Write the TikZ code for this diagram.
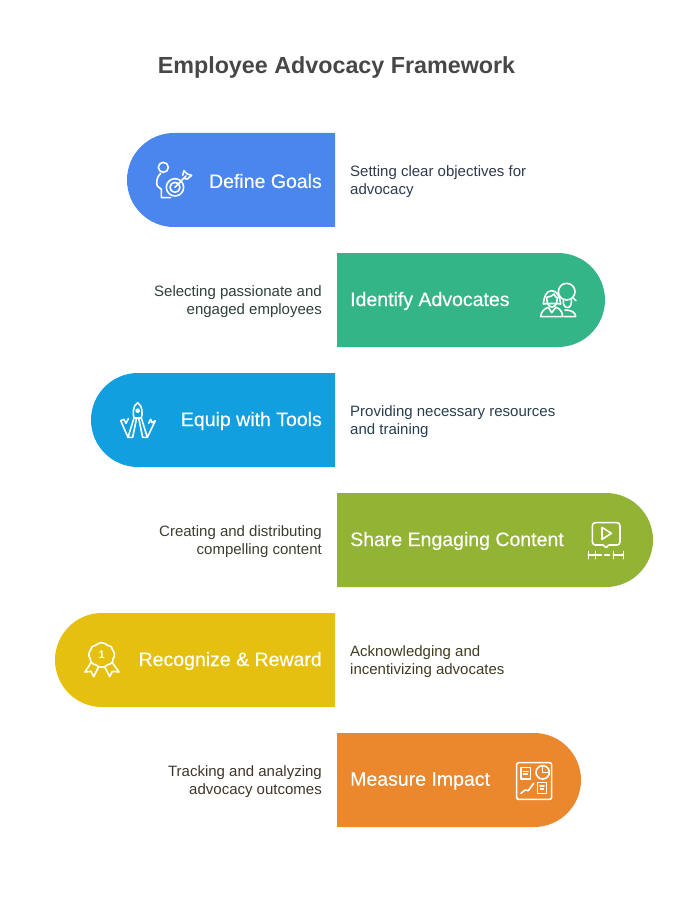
\documentclass[tikz,border=0pt]{standalone}
\usepackage{xcolor}
\usepackage{fontspec}
\setmainfont{Liberation Sans}
\newfontfamily\pillfont[FakeBold=.25]{Liberation Sans}
\usetikzlibrary{positioning}
\definecolor{goalblue}{HTML}{4A86EE}
\definecolor{advgreen}{HTML}{34B587}
\definecolor{toolblue}{HTML}{119FDF}
\definecolor{shareolive}{HTML}{93B335}
\definecolor{rewardyellow}{HTML}{E5C00F}
\definecolor{impactorange}{HTML}{EB872D}
\definecolor{goalnote}{HTML}{2E3A50}
\definecolor{advnote}{HTML}{2E403A}
\definecolor{toolnote}{HTML}{263E4E}
\definecolor{sharenote}{HTML}{3A3F2E}
\definecolor{rewardnote}{HTML}{403B22}
\definecolor{impactnote}{HTML}{40352A}
\tikzset{
  heading/.style={font=\fontsize{23.3}{28}\selectfont\bfseries,text=black!72,inner sep=0pt},
  pilltext/.style={font=\fontsize{19.5}{24}\selectfont\pillfont,text=white,inner sep=0pt},
  sidetext/.style={font=\fontsize{15}{18}\selectfont,inner sep=0pt},
  icon/.style={draw=white,line width=1.6pt,line join=round,line cap=round}
}
\begin{document}
\begin{tikzpicture}[x=1pt,y=-1pt]
    \useasboundingbox (0,0) rectangle (672,901);
    \node[heading] (title) at (336.5,67) {Employee Advocacy Framework};

    % bars
    \fill[goalblue] (335,133) -- (174,133) arc (270:90:47) -- (335,227) -- cycle;
    \fill[advgreen] (337,253) -- (558,253) arc (270:450:47) -- (337,347) -- cycle;
    \fill[toolblue] (335,373) -- (138,373) arc (270:90:47) -- (335,467) -- cycle;
    \fill[shareolive] (337,493) -- (606,493) arc (270:450:47) -- (337,587) -- cycle;
    \fill[rewardyellow] (335,613) -- (102,613) arc (270:90:47) -- (335,707) -- cycle;
    \fill[impactorange] (337,733) -- (534,733) arc (270:450:47) -- (337,827) -- cycle;

    \node[pilltext,anchor=east] (goals) at (322,181) {Define Goals};
    \node[pilltext,anchor=west] (advocates) at (350,301) {Identify Advocates};
    \node[pilltext,anchor=east] (tools) at (322,421) {Equip with Tools};
    \node[pilltext,anchor=west] (content) at (350,541) {Share Engaging Content};
    \node[pilltext,anchor=east] (reward) at (322,661) {Recognize \& Reward};
    \node[pilltext,anchor=west] (impact) at (350,781) {Measure Impact};

    \node[sidetext,text=goalnote,anchor=west,align=left] (goalsnote) at (350,181.5) {Setting clear objectives for\\advocacy};
    \node[sidetext,text=advnote,anchor=east,align=right] (advocatesnote) at (322,301.5) {Selecting passionate and\\engaged employees};
    \node[sidetext,text=toolnote,anchor=west,align=left] (toolsnote) at (350,421.5) {Providing necessary resources\\and training};
    \node[sidetext,text=sharenote,anchor=east,align=right] (contentnote) at (322,541.5) {Creating and distributing\\compelling content};
    \node[sidetext,text=rewardnote,anchor=west,align=left] (rewardnote) at (350,661.5) {Acknowledging and\\incentivizing advocates};
    \node[sidetext,text=impactnote,anchor=east,align=right] (impactnote) at (322,781.5) {Tracking and analyzing\\advocacy outcomes};

    % person with target
    \begin{scope}[shift={(130,130)},x=.3333pt,y=-.3333pt,icon]
        \draw (100,112) circle (15);
        \draw (92,130) .. controls (80,140) and (78,160) .. (82,168) -- (94,178) -- (94,203) -- (122,203);
        \draw (135,172) circle (26);
        \draw (135,172) circle (15);
        \draw (135,172) -- (168,138);
        \draw (158,136) -- (162,122) -- (172,132) -- (185,136) -- (172,147) -- (164,146);
    \end{scope}

    % two people
    \begin{scope}[shift={(520,260)},x=.3333pt,y=-.3333pt,icon]
        \draw (140,95) circle (25);
        \draw (158,113) -- (168,122);
        \draw (130,120) .. controls (128,135) and (135,145) .. (146,142) .. controls (152,140) and (155,130) .. (154,120);
        \draw (135,150) .. controls (155,150) and (167,158) .. (167,170) -- (132,170);
        \draw (95,92) .. controls (78,92) and (72,112) .. (70,132) .. controls (80,130) and (112,130) .. (122,132) .. controls (120,112) and (112,92) .. (95,92);
        \draw (80,112) .. controls (90,112) and (98,106) .. (102,102) .. controls (104,108) and (108,112) .. (112,114);
        \draw (80,115) .. controls (82,150) and (110,150) .. (112,115);
        \draw (62,170) .. controls (62,155) and (75,145) .. (85,142) -- (95,158) -- (108,142) .. controls (118,145) and (128,155) .. (128,170) -- cycle;
    \end{scope}

    % compass and rulers
    \begin{scope}[shift={(100,380)},x=.3333pt,y=-.3333pt,icon]
        \draw (113,68) .. controls (98,78) and (98,100) .. (102,114) -- (124,114) .. controls (128,100) and (128,78) .. (113,68) -- cycle;
        \fill[white,draw=none] (113,92) circle (7);
        \draw (102,114) -- (84,172) -- (62,122) -- (72,118) -- (78,130) -- (85,116);
        \draw (124,114) -- (142,172) -- (166,122) -- (156,128) -- (152,118) -- (146,130);
        \draw (110,114) -- (98,172) -- (84,172);
        \draw (116,114) -- (128,172) -- (142,172);
    \end{scope}

    % video and timeline
    \begin{scope}[shift={(570,500)},x=.3333pt,y=-.3333pt,icon]
        \draw[rounded corners=3pt] (67,68) rectangle (150,135);
        \fill[shareolive] (100,130) rectangle (116,140);
        \draw (100,135) -- (108,143) -- (116,135);
        \draw (96,82) -- (124,100) -- (96,118) -- cycle;
        \draw (55,154) -- (55,176);
        \draw (76,154) -- (76,176);
        \draw (55,165) -- (94,165);
        \draw (104,165) -- (118,165);
        \draw (130,154) -- (130,176);
        \draw (160,154) -- (160,176);
        \draw (130,165) -- (160,165);
    \end{scope}

    % award ribbon
    \begin{scope}[shift={(65,620)},x=.3333pt,y=-.3333pt,icon]
        \draw (110,68) .. controls (118,66) and (122,74) .. (128,76)
            .. controls (136,76) and (144,82) .. (143,90)
            .. controls (150,98) and (150,110) .. (144,116)
            .. controls (146,126) and (136,134) .. (128,134)
            .. controls (122,140) and (116,142) .. (110,142)
            .. controls (102,142) and (98,138) .. (92,134)
            .. controls (84,134) and (74,126) .. (76,116)
            .. controls (70,110) and (70,98) .. (77,90)
            .. controls (76,82) and (84,76) .. (92,76)
            .. controls (98,74) and (102,66) .. (110,68) -- cycle;
        \node[font=\fontsize{11}{11}\selectfont\bfseries,text=white,inner sep=0pt] (rank) at (110,105) {1};
        \draw (78,128) -- (60,156) -- (78,154) -- (86,170) -- (100,142);
        \draw (142,128) -- (162,156) -- (142,154) -- (134,170) -- (120,142);
    \end{scope}

    % dashboard
    \begin{scope}[shift={(495,740)},x=.3333pt,y=-.3333pt,icon]
        \draw[rounded corners=2pt] (65,68) rectangle (170,178);
        \draw (78,83) rectangle (106,117);
        \draw (85,94) -- (99,94);
        \fill[white] (84,100) rectangle (100,105);
        \draw (143,97) circle (20);
        \draw (143,78) -- (143,97) -- (160,97);
        \draw (78,160) -- (90,150) -- (100,152) -- (116,130);
        \draw (128,128) rectangle (154,160);
        \draw (135,138) -- (147,138);
        \fill[white] (134,144) rectangle (148,149);
    \end{scope}
\end{tikzpicture}
\end{document}
